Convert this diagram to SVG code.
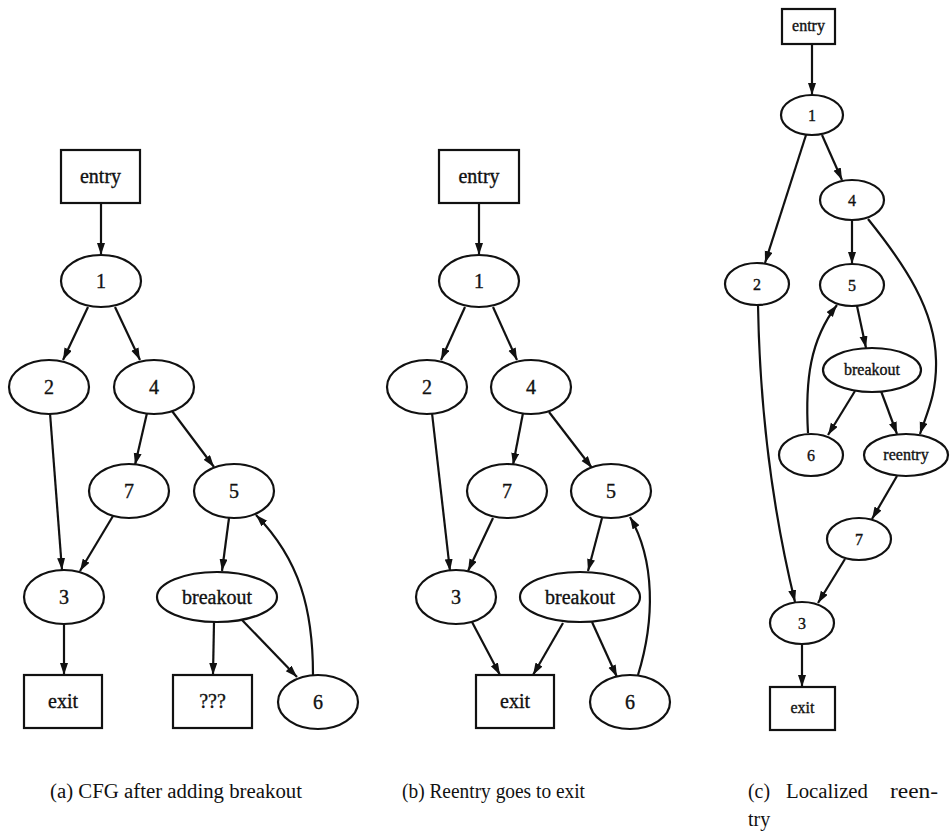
<svg xmlns="http://www.w3.org/2000/svg" width="952" height="839" viewBox="0 0 952 839">
  <style>
    .shape { fill: #fff; stroke: #111; stroke-width: 2.2; }
    .edge { fill: none; stroke: #111; stroke-width: 2.2; marker-end: url(#arrow); }
    .lbl { font-family: "Liberation Serif", "Times New Roman", serif; font-size: 20px; fill: #111; text-anchor: middle; dominant-baseline: central; stroke: #111; stroke-width: 0.35; }
    .sm .lbl { font-size: 16px; }
    .cap { font-family: "Liberation Serif", "Times New Roman", serif; font-size: 20px; fill: #111; }
  </style>
  <defs>
    <marker id="arrow" markerUnits="userSpaceOnUse" markerWidth="13" markerHeight="9" refX="12" refY="4" orient="auto">
      <path d="M0,0 L12,4 L0,8 z" fill="#111"/>
    </marker>
  </defs>

  <!-- (a) CFG after adding breakout -->
  <g id="graph-a">
    <g id="edges-a">
      <line class="edge" x1="101" y1="203" x2="101" y2="255"/>
      <line class="edge" x1="88" y1="307" x2="63" y2="360"/>
      <line class="edge" x1="115" y1="307" x2="140" y2="360"/>
      <line class="edge" x1="50" y1="413" x2="62" y2="570"/>
      <line class="edge" x1="147" y1="413" x2="135" y2="465"/>
      <line class="edge" x1="172" y1="411" x2="214" y2="467"/>
      <line class="edge" x1="113" y1="516" x2="80" y2="571"/>
      <line class="edge" x1="229" y1="518" x2="222" y2="571"/>
      <line class="edge" x1="64" y1="624" x2="64" y2="675"/>
      <line class="edge" x1="214" y1="622" x2="213" y2="675"/>
      <line class="edge" x1="242" y1="620" x2="297" y2="677"/>
      <path class="edge" d="M313,675 C313,610 300,560 256,515"/>
    </g>
    <g id="a-entry"><rect class="shape" x="61" y="150" width="79" height="53"/><text class="lbl" x="100.5" y="176">entry</text></g>
    <g id="a-n1"><ellipse class="shape" cx="101" cy="281" rx="40" ry="26"/><text class="lbl" x="101" y="281">1</text></g>
    <g id="a-n2"><ellipse class="shape" cx="49" cy="387" rx="40" ry="27"/><text class="lbl" x="49" y="387">2</text></g>
    <g id="a-n4"><ellipse class="shape" cx="154" cy="387" rx="40" ry="27"/><text class="lbl" x="154" y="387">4</text></g>
    <g id="a-n7"><ellipse class="shape" cx="129" cy="491" rx="40" ry="27"/><text class="lbl" x="129" y="491">7</text></g>
    <g id="a-n5"><ellipse class="shape" cx="234" cy="491" rx="40" ry="27"/><text class="lbl" x="234" y="491">5</text></g>
    <g id="a-n3"><ellipse class="shape" cx="64" cy="597" rx="40" ry="27"/><text class="lbl" x="64" y="597">3</text></g>
    <g id="a-breakout"><ellipse class="shape" cx="217" cy="597" rx="60" ry="25"/><text class="lbl" x="217" y="597">breakout</text></g>
    <g id="a-exit"><rect class="shape" x="24" y="675" width="78" height="53"/><text class="lbl" x="63" y="701">exit</text></g>
    <g id="a-unknown"><rect class="shape" x="173" y="675" width="79" height="53"/><text class="lbl" x="212.5" y="701">???</text></g>
    <g id="a-n6"><ellipse class="shape" cx="318" cy="702" rx="40" ry="27"/><text class="lbl" x="318" y="702">6</text></g>
  </g>

  <!-- (b) Reentry goes to exit -->
  <g id="graph-b">
    <g id="edges-b">
      <line class="edge" x1="479" y1="203" x2="479" y2="255"/>
      <line class="edge" x1="465" y1="307" x2="441" y2="360"/>
      <line class="edge" x1="493" y1="307" x2="517" y2="360"/>
      <line class="edge" x1="432" y1="413" x2="450" y2="571"/>
      <line class="edge" x1="523" y1="413" x2="513" y2="465"/>
      <line class="edge" x1="549" y1="412" x2="592" y2="468"/>
      <line class="edge" x1="493" y1="518" x2="468" y2="571"/>
      <line class="edge" x1="602" y1="518" x2="588" y2="571"/>
      <line class="edge" x1="472" y1="622" x2="500" y2="675"/>
      <line class="edge" x1="563" y1="623" x2="533" y2="675"/>
      <line class="edge" x1="592" y1="622" x2="617" y2="677"/>
      <path class="edge" d="M638,675 C655,620 655,560 630,517"/>
    </g>
    <g id="b-entry"><rect class="shape" x="439" y="150" width="80" height="53"/><text class="lbl" x="479" y="176">entry</text></g>
    <g id="b-n1"><ellipse class="shape" cx="479" cy="281" rx="40" ry="26"/><text class="lbl" x="479" y="281">1</text></g>
    <g id="b-n2"><ellipse class="shape" cx="427" cy="387" rx="40" ry="27"/><text class="lbl" x="427" y="387">2</text></g>
    <g id="b-n4"><ellipse class="shape" cx="531" cy="387" rx="40" ry="27"/><text class="lbl" x="531" y="387">4</text></g>
    <g id="b-n7"><ellipse class="shape" cx="507" cy="491" rx="40" ry="27"/><text class="lbl" x="507" y="491">7</text></g>
    <g id="b-n5"><ellipse class="shape" cx="611" cy="491" rx="40" ry="27"/><text class="lbl" x="611" y="491">5</text></g>
    <g id="b-n3"><ellipse class="shape" cx="456" cy="597" rx="40" ry="27"/><text class="lbl" x="456" y="597">3</text></g>
    <g id="b-breakout"><ellipse class="shape" cx="580" cy="597" rx="60" ry="25"/><text class="lbl" x="580" y="597">breakout</text></g>
    <g id="b-exit"><rect class="shape" x="476" y="675" width="78" height="53"/><text class="lbl" x="515" y="701">exit</text></g>
    <g id="b-n6"><ellipse class="shape" cx="630" cy="702" rx="40" ry="27"/><text class="lbl" x="630" y="702">6</text></g>
  </g>

  <!-- (c) Localized reentry -->
  <g id="graph-c" class="sm">
    <g id="edges-c">
      <line class="edge" x1="812" y1="44" x2="812" y2="95"/>
      <line class="edge" x1="806" y1="135" x2="765" y2="263"/>
      <line class="edge" x1="822" y1="135" x2="842" y2="180"/>
      <line class="edge" x1="852" y1="220" x2="852" y2="264"/>
      <path class="edge" d="M868,219 C905,265 935,310 936,360 C937,395 926,415 920,434"/>
      <line class="edge" x1="857" y1="306" x2="866" y2="348"/>
      <path class="edge" d="M808,433 C805,380 810,340 837,305"/>
      <line class="edge" x1="855" y1="391" x2="828" y2="435"/>
      <line class="edge" x1="881" y1="391" x2="897" y2="434"/>
      <line class="edge" x1="897" y1="476" x2="872" y2="519"/>
      <line class="edge" x1="845" y1="559" x2="818" y2="603"/>
      <path class="edge" d="M758,305 C760,420 775,520 795,602"/>
      <line class="edge" x1="802" y1="644" x2="802" y2="687"/>
    </g>
    <g id="c-entry"><rect class="shape" x="782" y="9" width="53" height="35"/><text class="lbl" x="808.5" y="25">entry</text></g>
    <g id="c-n1"><ellipse class="shape" cx="812" cy="115" rx="31" ry="20"/><text class="lbl" x="812" y="115">1</text></g>
    <g id="c-n4"><ellipse class="shape" cx="852" cy="200" rx="32" ry="20"/><text class="lbl" x="852" y="200">4</text></g>
    <g id="c-n2"><ellipse class="shape" cx="757" cy="284" rx="32" ry="21"/><text class="lbl" x="757" y="284">2</text></g>
    <g id="c-n5"><ellipse class="shape" cx="852" cy="285" rx="32" ry="21"/><text class="lbl" x="852" y="285">5</text></g>
    <g id="c-breakout"><ellipse class="shape" cx="872" cy="370" rx="49" ry="22"/><text class="lbl" x="872" y="369">breakout</text></g>
    <g id="c-n6"><ellipse class="shape" cx="811" cy="455" rx="32" ry="21"/><text class="lbl" x="811" y="455">6</text></g>
    <g id="c-reentry"><ellipse class="shape" cx="906" cy="455" rx="42" ry="21"/><text class="lbl" x="906" y="454">reentry</text></g>
    <g id="c-n7"><ellipse class="shape" cx="859" cy="539" rx="32" ry="21"/><text class="lbl" x="859" y="539">7</text></g>
    <g id="c-n3"><ellipse class="shape" cx="802" cy="623" rx="32" ry="21"/><text class="lbl" x="802" y="623">3</text></g>
    <g id="c-exit"><rect class="shape" x="770" y="687" width="65" height="43"/><text class="lbl" x="802.5" y="707">exit</text></g>
  </g>

  <!-- captions; the (c) line is justified word by word -->
  <g id="captions">
    <text class="cap" x="50" y="798" textLength="252" lengthAdjust="spacingAndGlyphs">(a) CFG after adding breakout</text>
    <text class="cap" x="402" y="798" textLength="183" lengthAdjust="spacingAndGlyphs">(b) Reentry goes to exit</text>
    <text class="cap" x="748" y="798" textLength="22" lengthAdjust="spacingAndGlyphs">(c)</text>
    <text class="cap" x="786" y="798" textLength="82" lengthAdjust="spacingAndGlyphs">Localized</text>
    <text class="cap" x="890" y="798" textLength="48" lengthAdjust="spacingAndGlyphs">reen-</text>
    <text class="cap" x="748" y="826">try</text>
  </g>
</svg>
